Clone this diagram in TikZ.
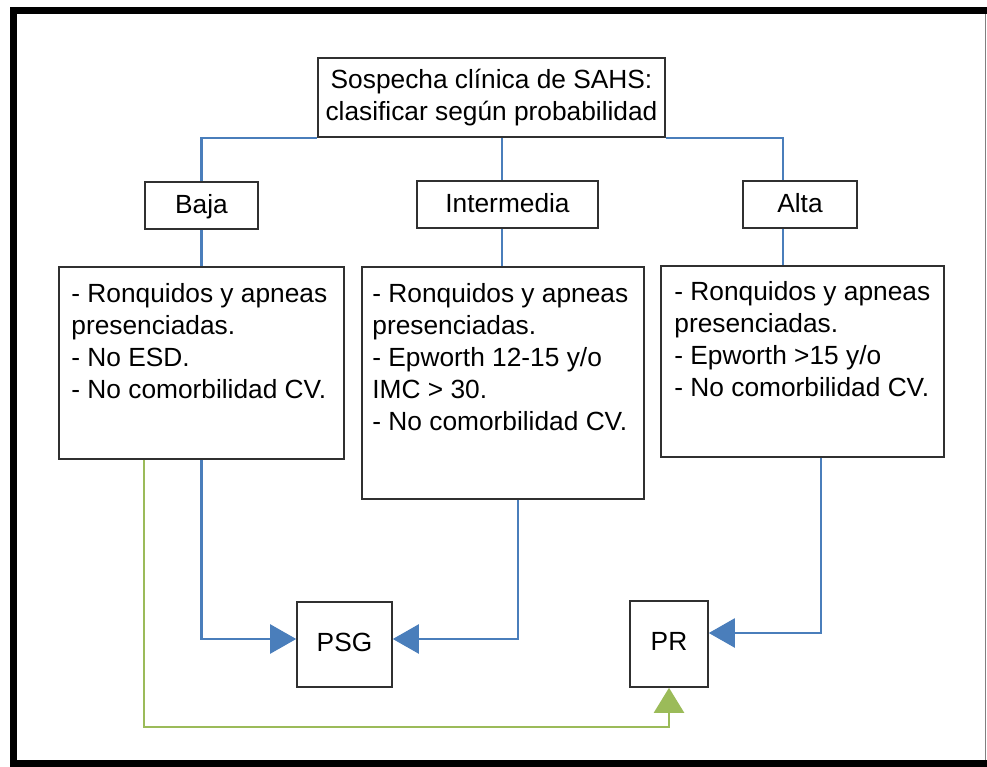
\documentclass[tikz,border=0pt]{standalone}
\usepackage{fontspec}
\setmainfont{Liberation Sans}
\usetikzlibrary{arrows.meta}
\definecolor{lineblue}{HTML}{4A7EBB}
\definecolor{linegreen}{HTML}{9BBB59}
\definecolor{boxline}{HTML}{303030}
\begin{document}
\begin{tikzpicture}[x=1pt,y=-1pt,
  txtfont/.style={font=\fontsize{26.3}{32}\selectfont},
  box/.style={draw=boxline,line width=1.6pt,fill=white,inner sep=0pt,txtfont},
  onebox/.style={box,text height=20.5pt,text depth=4pt},
  txt/.style={inner sep=0pt,align=left,txtfont,anchor=north west},
  blueline/.style={draw=lineblue,line width=2.3pt},
  greenline/.style={draw=linegreen,line width=2.3pt},
  bluearrow/.style={blueline,-{Triangle[length=26pt,width=29pt]}},
  greenarrow/.style={greenline,-{Triangle[length=25pt,width=30pt]}}]
\useasboundingbox (0,0) rectangle (987,767);
\fill[white] (0,0) rectangle (987,767);
% frame
\fill[black] (10,7) rectangle (987,14);
\fill[black] (10,7) rectangle (17,767);
\fill[black] (10,760) rectangle (987,767);
\draw[gray,line width=1pt] (985,14) -- (985,760);

% nodes
\node[box,minimum width=347pt,minimum height=79pt,align=center] (top) at (491.5,97.5)
  {Sospecha clínica de SAHS:\\clasificar según probabilidad};
\node[onebox,minimum width=113pt,minimum height=47pt] (baja) at (201.5,205.5) {Baja};
\node[onebox,minimum width=181pt,minimum height=47pt] (inter) at (507.5,204.5) {Intermedia};
\node[onebox,minimum width=114pt,minimum height=47pt] (alta) at (800,204.5) {Alta};

\node[box,minimum width=285pt,minimum height=192pt] (lbox) at (201.5,363) {};
\node[box,minimum width=282pt,minimum height=232pt] (mbox) at (503,383) {};
\node[box,minimum width=283pt,minimum height=191pt] (rbox) at (802.5,361.5) {};

\node[txt] (ltxt) at ([xshift=13pt,yshift=-17pt]lbox.north west)
  {- Ronquidos y apneas\\presenciadas.\\- No ESD.\\- No comorbilidad CV.};
\node[txt] (mtxt) at ([xshift=11pt,yshift=-17pt]mbox.north west)
  {- Ronquidos y apneas\\presenciadas.\\- Epworth 12-15 y/o\\IMC > 30.\\- No comorbilidad CV.};
\node[txt] (rtxt) at ([xshift=14pt,yshift=-16pt]rbox.north west)
  {- Ronquidos y apneas\\presenciadas.\\- Epworth >15 y/o\\- No comorbilidad CV.};

\node[box,text height=19pt,text depth=5.5pt,minimum width=95pt,minimum height=85pt] (psg) at (344.5,644.5) {PSG};
\node[box,text height=19pt,text depth=5.5pt,minimum width=78pt,minimum height=86pt] (pr) at (669,644) {PR};

% top connectors
\draw[blueline] (baja.north) |- (top.south west);
\draw[blueline] ([xshift=-17pt]alta.north) |- (top.south east);
\draw[blueline] ([xshift=-5.5pt]inter.north) -- ([xshift=-5.5pt]inter.north |- top.south);
\draw[blueline] (baja.south) -- (baja.south |- lbox.north);
\draw[blueline] ([xshift=-5.5pt]inter.south) -- ([xshift=-5.5pt]inter.south |- mbox.north);
\draw[blueline] ([xshift=-17pt]alta.south) -- ([xshift=-17pt]alta.south |- rbox.north);

% bottom connectors
\draw[bluearrow] (lbox.south) |- ([yshift=5.5pt]psg.west);
\draw[bluearrow] ([xshift=15pt]mbox.south) |- ([yshift=5.5pt]psg.east);
\draw[bluearrow] ([xshift=18.5pt]rbox.south) |- ([yshift=11pt]pr.east);
\draw[greenarrow] (lbox.south -| baja.west) |- (pr.south |- 0,727) -- (pr.south);
\end{tikzpicture}
\end{document}
